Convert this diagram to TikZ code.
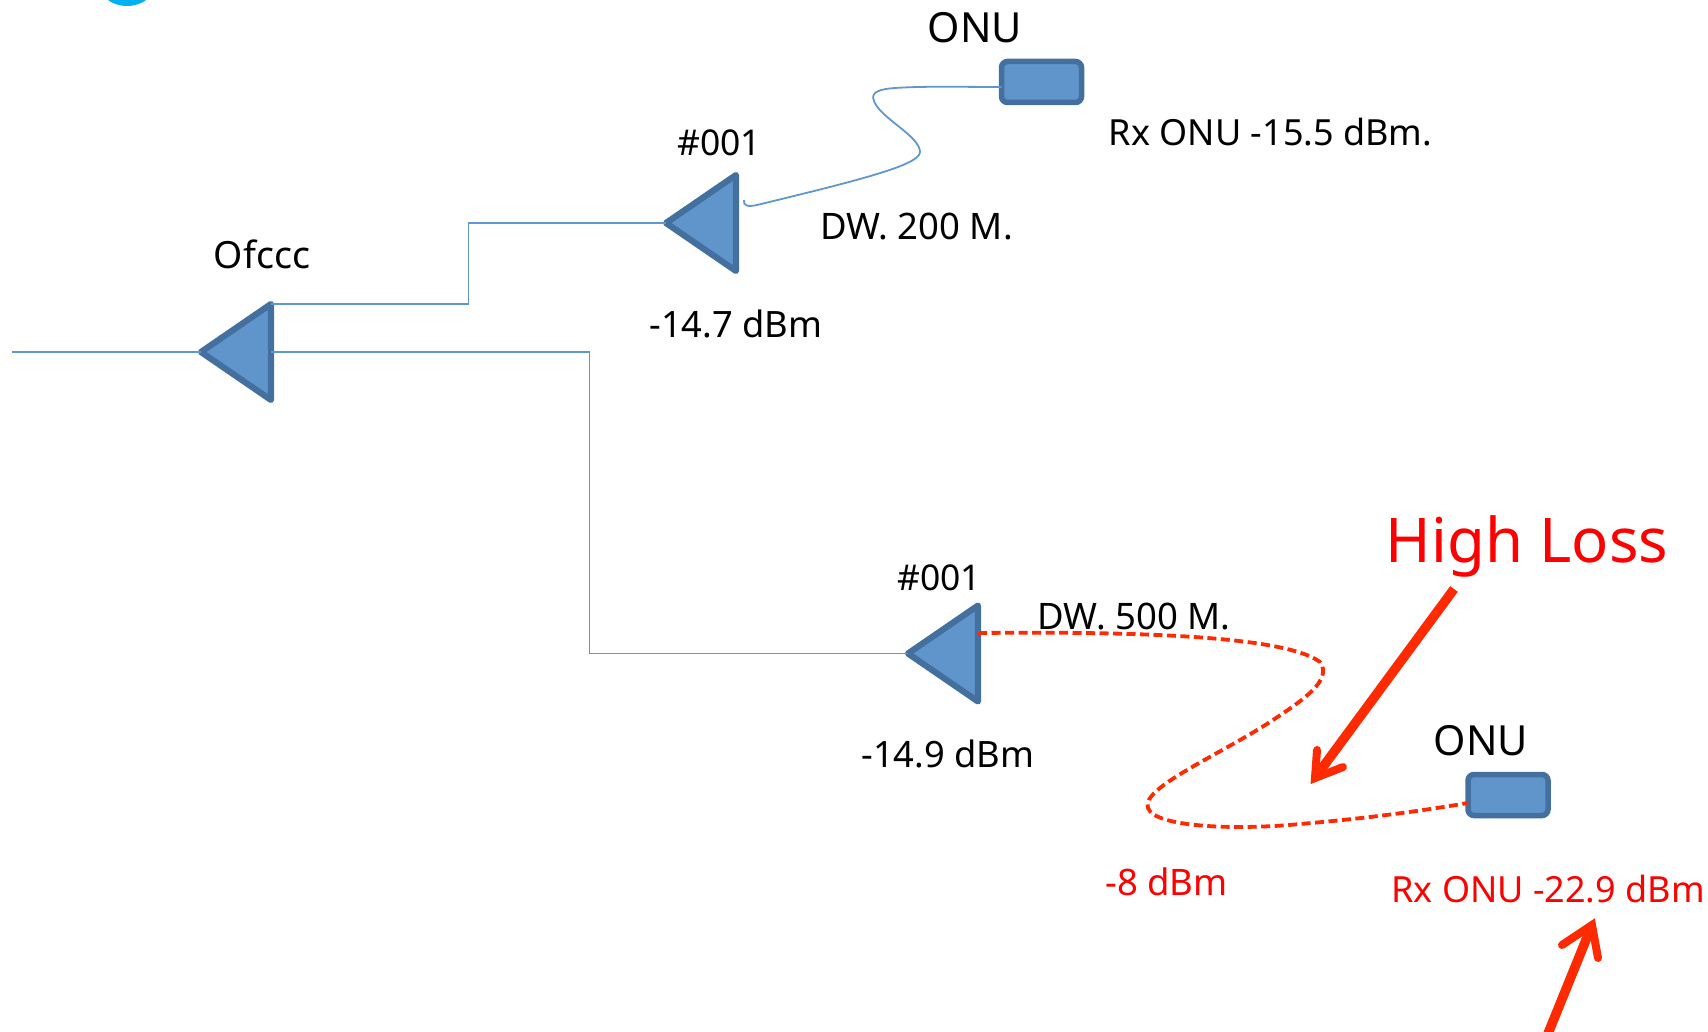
\documentclass[tikz,border=0pt]{standalone}
\usepackage{fontspec}
\setmainfont{Noto Sans}
\usetikzlibrary{shapes.geometric}
\definecolor{devfill}{HTML}{5F95CB}
\definecolor{devline}{HTML}{44709F}
\definecolor{wire}{HTML}{6197D0}
\definecolor{lossline}{HTML}{FF2A00}
\definecolor{lossText}{HTML}{FF0000}
\definecolor{logo}{HTML}{00B0F0}
\tikzset{
  x=1pt,y=-1pt,
  tri/.style={isosceles triangle,isosceles triangle stretches,shape border rotate=180,
    minimum height=70pt,minimum width=96pt,inner sep=0pt,outer sep=0pt,
    draw=devline,fill=devfill,line width=6.2pt,line join=round,anchor=apex},
  onubox/.style={rectangle,rounded corners=6pt,minimum width=80pt,minimum height=41pt,inner sep=0pt,outer sep=0pt,
    draw=devline,fill=devfill,line width=5.5pt},
  wireline/.style={draw=wire,line width=1.8pt},
  lossdash/.style={draw=lossline,line width=3.8pt,dash pattern=on 9pt off 4.5pt},
  bigshaft/.style={draw=lossline,line width=9.5pt},
  bighead/.style={draw=lossline,line width=8pt,line cap=round,line join=miter,miter limit=10},
  lbl/.style={inner sep=0pt,outer sep=0pt,font=\fontsize{#1}{#1}\selectfont},
  redlbl/.style={lbl=#1,text=lossText},
}
\begin{document}
\begin{tikzpicture}
\useasboundingbox (0,0) rectangle (1708,1032);
\fill[logo] (127,-18) ellipse (29 and 24);
% devices
\node[tri] (of) at (201,352) {};
\node[tri] (ta) at (666,223) {};
\node[tri] (tb) at (908,653.5) {};
\node[onubox] (onua) at (1041.5,82) {};
\node[onubox] (onub) at (1508,795) {};
\coordinate (leftend) at (12,352);
\coordinate (aend) at (744,200);
% connectors
\draw[wireline] (leftend) -- (of.apex);
\draw[wireline] (of.right corner |- 0,304) -- (468.5,304) |- (ta.apex);
\draw[wireline] (of.apex -| of.lower side) -- (589.5,352) |- (tb.apex);
\draw[wireline] ([yshift=-5pt]onua.west) .. controls (960,87) and (925,86) .. (895,88)
  .. controls (880,89) and (870,92) .. (874,101)
  .. controls (880,118) and (920,136) .. (920,152)
  .. controls (920,165) and (860,180) .. (757,205)
  .. controls (748,207) and (743,206) .. (aend);
\draw[lossdash] (tb.lower side |- 0,633) .. controls (1090,632) and (1280,632) .. (1320,662)
  .. controls (1333,680) and (1303,700) .. (1273,720)
  .. controls (1220,755) and (1140,788) .. (1148,808)
  .. controls (1155,828) and (1240,830) .. (1300,824)
  .. controls (1370,818) and (1420,811) .. ([yshift=-8pt]onub.west);
% arrows
\coordinate (hlvertex) at (1315,778);
\draw[bigshaft] (1454,589) -- (1317,775);
\draw[bighead] (1317,750) -- (hlvertex) -- (1343,767);
\coordinate (rxvertex) at (1592,925);
\draw[bigshaft] (1547,1036) -- (1590,930);
\draw[bighead] (1562,945) -- (rxvertex) -- (1598,958);
% labels
\node[lbl=41.5] (t1) at (975,28) {ONU};
\node[lbl=35.5] (t2) at (719,143) {\#001};
\node[lbl=36.5] (t3) at (916.5,227) {DW. 200 M.};
\node[lbl=36.3] (t4) at (736,324) {-14.7 dBm};
\node[lbl=37.5] (t5) at (262,254) {Ofccc};
\node[lbl=36] (t6) at (1270.5,132) {Rx ONU -15.5 dBm.};
\node[lbl=35.5] (t7) at (939,578) {\#001};
\node[lbl=36.5] (t8) at (1134,617) {DW. 500 M.};
\node[lbl=36.3] (t9) at (948,753.5) {-14.9 dBm};
\node[redlbl=61.6] (t10) at (1527,546) {High Loss};
\node[lbl=41.5] (t11) at (1481,741) {ONU};
\node[redlbl=36.5] (t12) at (1166.5,882) {-8 dBm};
\node[redlbl=36] (t13) at (1548,889) {Rx ONU -22.9 dBm};
\end{tikzpicture}
\end{document}
